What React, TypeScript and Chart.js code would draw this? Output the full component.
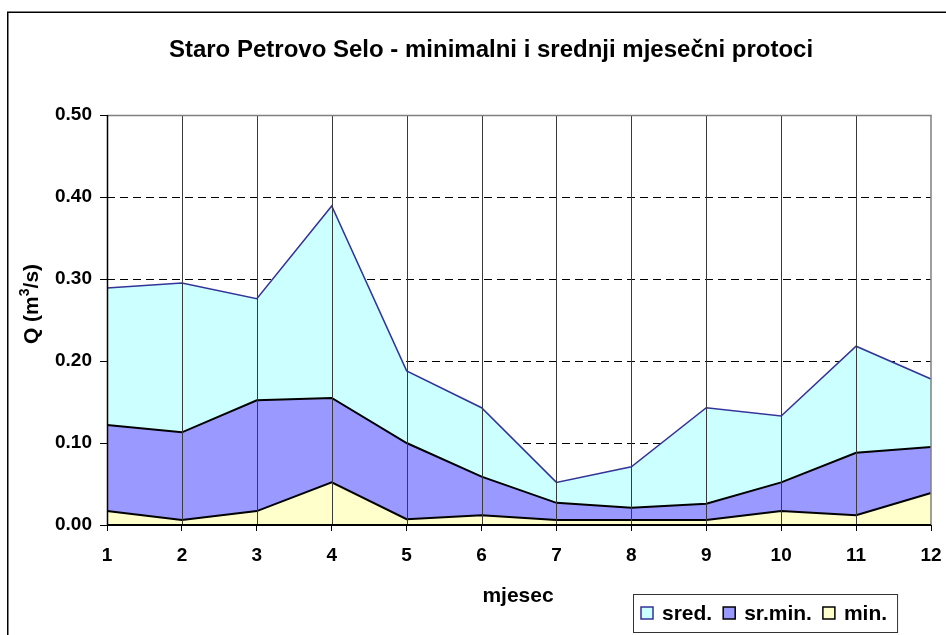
import React, { useEffect, useRef } from "react";
import { Chart, registerables } from "chart.js";

Chart.register(...registerables);

const months = ["1", "2", "3", "4", "5", "6", "7", "8", "9", "10", "11", "12"];
const sred = [0.289, 0.295, 0.276, 0.389, 0.188, 0.143, 0.052, 0.071, 0.143, 0.133, 0.218, 0.178];
const srMin = [0.122, 0.113, 0.152, 0.155, 0.1, 0.059, 0.027, 0.021, 0.026, 0.052, 0.088, 0.095];
const minQ = [0.017, 0.006, 0.017, 0.052, 0.007, 0.012, 0.006, 0.006, 0.006, 0.017, 0.012, 0.039];

const titleText = "Staro Petrovo Selo - minimalni i srednji mjesečni protoci";
const xTitle = "mjesec";
const yTitleParts = ["Q (m", "3", "/s)"];

const FONT = "'Liberation Sans', Arial, sans-serif";

const decor = {
  id: "decor",
  afterDatasetsDraw(chart: any) {
    const { ctx, chartArea: a, scales } = chart;
    const x = scales.x;
    ctx.save();
    // vertical category lines over fills
    ctx.lineWidth = 1;
    ctx.strokeStyle = "#3a3a3a";
    for (let i = 1; i < months.length - 1; i++) {
      const px = Math.round(x.getPixelForTick(i)) + 0.5;
      ctx.beginPath();
      ctx.moveTo(px, a.top);
      ctx.lineTo(px, a.bottom);
      ctx.stroke();
    }
    // top and right border (gray)
    ctx.strokeStyle = "#808080";
    ctx.lineWidth = 1.5;
    ctx.beginPath();
    ctx.moveTo(a.left, a.top + 0.5);
    ctx.lineTo(a.right, a.top + 0.5);
    ctx.lineTo(a.right, a.bottom);
    ctx.stroke();
    // axes
    ctx.strokeStyle = "#000";
    ctx.lineWidth = 1.5;
    ctx.beginPath();
    ctx.moveTo(a.left + 0.5, a.top);
    ctx.lineTo(a.left + 0.5, a.bottom);
    ctx.stroke();
    ctx.lineWidth = 2;
    ctx.beginPath();
    ctx.moveTo(a.left, a.bottom);
    ctx.lineTo(a.right, a.bottom);
    ctx.stroke();
    ctx.restore();
  },
  afterDraw(chart: any) {
    const { ctx } = chart;
    ctx.save();
    // outer frame
    ctx.strokeStyle = "#000";
    ctx.lineWidth = 1.5;
    ctx.beginPath();
    ctx.moveTo(7.75, 640);
    ctx.lineTo(7.75, 12.25);
    ctx.lineTo(950, 12.25);
    ctx.stroke();

    ctx.fillStyle = "#000";
    // title
    ctx.font = `bold 24px ${FONT}`;
    ctx.textAlign = "center";
    ctx.textBaseline = "middle";
    ctx.fillText(titleText, 491, 50);

    // x title
    ctx.font = `bold 21px ${FONT}`;
    ctx.fillText(xTitle, 518, 596);

    // y title with superscript
    ctx.save();
    ctx.translate(32, 304);
    ctx.rotate(-Math.PI / 2);
    ctx.textAlign = "left";
    ctx.textBaseline = "middle";
    const mainFont = `bold 21px ${FONT}`;
    const supFont = `bold 14px ${FONT}`;
    ctx.font = mainFont;
    const w0 = ctx.measureText(yTitleParts[0]).width;
    const w2 = ctx.measureText(yTitleParts[2]).width;
    ctx.font = supFont;
    const w1 = ctx.measureText(yTitleParts[1]).width;
    let cx = -(w0 + w1 + w2) / 2;
    ctx.font = mainFont;
    ctx.fillText(yTitleParts[0], cx, 0);
    cx += w0;
    ctx.font = supFont;
    ctx.fillText(yTitleParts[1], cx, -7);
    cx += w1;
    ctx.font = mainFont;
    ctx.fillText(yTitleParts[2], cx, 0);
    ctx.restore();

    // legend
    const items = chart.data.datasets.slice().reverse();
    ctx.font = `bold 21px ${FONT}`;
    ctx.textAlign = "left";
    ctx.textBaseline = "middle";
    const boxL = 633, boxT = 594, boxH = 38;
    let lx = 641;
    const my = 613;
    const ends: number[] = [];
    items.forEach((ds: any) => {
      ctx.fillStyle = ds.backgroundColor;
      ctx.fillRect(lx, my - 6, 12, 12);
      ctx.strokeStyle = ds.legendBorder;
      ctx.lineWidth = 1.5;
      ctx.strokeRect(lx, my - 6, 12, 12);
      ctx.fillStyle = "#000";
      const tx = lx + 21;
      ctx.fillText(ds.label, tx, my + 1);
      const tw = ctx.measureText(ds.label).width;
      ends.push(tx + tw);
      lx = tx + tw + 11;
    });
    const boxR = ends[ends.length - 1] + 10;
    ctx.strokeStyle = "#333";
    ctx.lineWidth = 1;
    ctx.strokeRect(boxL + 0.5, boxT + 0.5, boxR - boxL, boxH);
    ctx.restore();
  },
};

export default function App() {
  const ref = useRef<HTMLCanvasElement | null>(null);

  useEffect(() => {
    if (!ref.current) return;
    const isVal = (v: number, t: number) => Math.abs(v - t) < 1e-6;
    const chart = new Chart(ref.current, {
      type: "line",
      data: {
        labels: months,
        datasets: [
          {
            label: "min.",
            data: minQ,
            backgroundColor: "#FFFFCC",
            borderColor: "#000000",
            borderWidth: 2,
            fill: "origin",
            pointRadius: 0,
            tension: 0,
            legendBorder: "#000000",
          } as any,
          {
            label: "sr.min.",
            data: srMin,
            backgroundColor: "#9999FF",
            borderColor: "#000000",
            borderWidth: 2,
            fill: "origin",
            pointRadius: 0,
            tension: 0,
            legendBorder: "#000000",
          } as any,
          {
            label: "sred.",
            data: sred,
            backgroundColor: "#CCFFFF",
            borderColor: "#333399",
            borderWidth: 1.5,
            fill: "origin",
            pointRadius: 0,
            tension: 0,
            legendBorder: "#333399",
          } as any,
        ],
      },
      options: {
        animation: false,
        responsive: false,
        maintainAspectRatio: false,
        layout: { padding: { top: 115, right: 15, left: 0, bottom: 50 } },
        plugins: {
          legend: { display: false },
          title: { display: false },
          tooltip: { enabled: false },
        },
        scales: {
          x: {
            type: "category",
            offset: false,
            afterFit: (s: any) => {
              s.height = 60;
              s.paddingLeft = 0;
              s.paddingRight = 0;
            },
            grid: {
              display: true,
              drawOnChartArea: false,
              drawTicks: true,
              tickLength: 6,
              tickColor: "#000",
              tickWidth: 1,
            },
            border: { display: false },
            ticks: {
              color: "#000",
              font: { family: FONT, size: 19, weight: "bold" },
              padding: 13,
              maxRotation: 0,
              autoSkip: false,
            },
          },
          y: {
            min: 0,
            max: 0.5,
            afterFit: (s: any) => {
              s.width = 107;
              s.paddingTop = 0;
              s.paddingBottom = 0;
            },
            grid: {
              display: true,
              drawOnChartArea: true,
              drawTicks: true,
              tickLength: 7,
              tickColor: "#000",
              tickWidth: 1,
              tickBorderDash: [],
              lineWidth: 1,
              color: (c: any) =>
                c.tick && (isVal(c.tick.value, 0) || isVal(c.tick.value, 0.5))
                  ? "rgba(0,0,0,0)"
                  : "#000",
            },
            border: { display: false, dash: [8, 5] },
            ticks: {
              stepSize: 0.1,
              color: "#000",
              font: { family: FONT, size: 19, weight: "bold" },
              padding: 8,
              callback: (v: any) => Number(v).toFixed(2),
            },
          },
        },
      },
      plugins: [decor],
    });
    return () => chart.destroy();
  }, []);

  return (
    <div
      style={{
        position: "fixed",
        left: 0,
        top: 0,
        width: 946,
        height: 635,
        background: "#fff",
        overflow: "hidden",
      }}
    >
      <canvas ref={ref} width={946} height={635} style={{ display: "block" }} />
    </div>
  );
}
